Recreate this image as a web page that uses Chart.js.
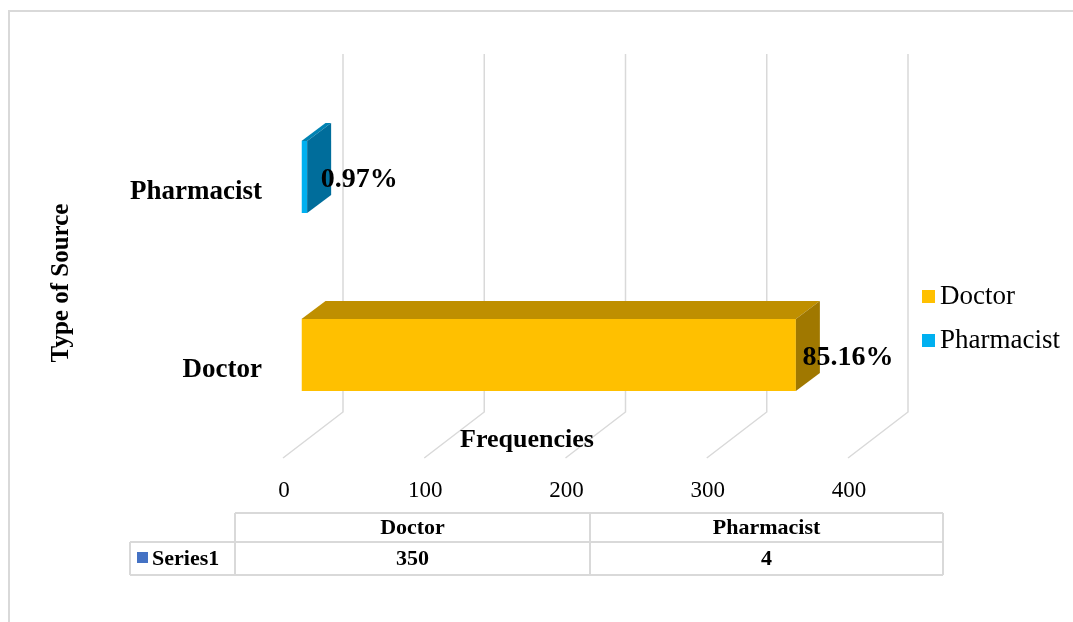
<!DOCTYPE html>
<html>
<head>
<meta charset="utf-8">
<script src="https://cdn.jsdelivr.net/npm/chart.js@4"></script>
<style>
  body { margin: 0; background: #fff; }
  #wrap { width: 1073px; height: 622px; position: relative; }
</style>
</head>
<body>
<div id="wrap"><canvas id="chart" width="1073" height="622"></canvas></div>
<script>
// data
const categories = ['Doctor', 'Pharmacist'];
const frequencies = [350, 4];
const percentLabels = ['85.16%', '0.97%'];
const xTicks = [0, 100, 200, 300, 400];
const seriesName = 'Series1';

const frontColors = ['#FFC000', '#00B0F0'];
const topColors = ['#BF8F00', '#0083B3'];
const sideColors = ['#A07800', '#006D9B'];

const SERIF = '"Liberation Serif", "Times New Roman", serif';
const GRID = '#D9D9D9';
const DEPTH = { dx: 24, dy: -18 };   // bar depth in the oblique view

const decorPlugin = {
  id: 'decor',
  beforeDatasetsDraw(chart) {
    const ctx = chart.ctx;
    const xs = chart.scales.x;
    const ys = chart.scales.y;
    ctx.save();

    // outer frame
    ctx.strokeStyle = GRID;
    ctx.lineWidth = 2;
    ctx.beginPath();
    ctx.moveTo(9, 622); ctx.lineTo(9, 11); ctx.lineTo(1073, 11);
    ctx.stroke();

    // back wall gridlines + floor lines
    ctx.lineWidth = 1.5;
    xTicks.forEach(v => {
      const xb = xs.getPixelForValue(v) + 41.5;
      ctx.beginPath();
      ctx.moveTo(xb, 54);
      ctx.lineTo(xb, 412);
      ctx.lineTo(xb - 60, 458);
      ctx.stroke();
    });

    // tick labels
    ctx.fillStyle = '#000';
    ctx.font = '23px ' + SERIF;
    ctx.textAlign = 'center';
    ctx.textBaseline = 'middle';
    xTicks.forEach(v => {
      ctx.fillText(String(v), xs.getPixelForValue(v) - 17.5, 491);
    });

    // category labels
    ctx.font = 'bold 27px ' + SERIF;
    ctx.textAlign = 'right';
    categories.forEach((c, i) => {
      ctx.fillText(c, 262, ys.getPixelForValue(i) + 15);
    });

    // axis titles
    ctx.font = 'bold 26px ' + SERIF;
    ctx.textAlign = 'center';
    ctx.fillText('Frequencies', 527, 440);
    ctx.save();
    ctx.translate(62, 283);
    ctx.rotate(-Math.PI / 2);
    ctx.font = 'bold 25px ' + SERIF;
    ctx.fillText('Type of Source', 0, 0);
    ctx.restore();

    ctx.restore();
  },
  afterDatasetsDraw(chart) {
    const ctx = chart.ctx;
    const meta = chart.getDatasetMeta(0);
    ctx.save();
    meta.data.forEach((bar, i) => {
      const h = bar.height;
      const top = bar.y - h / 2;
      const bottom = bar.y + h / 2;
      const l = bar.base, r = bar.x;
      // top face
      ctx.fillStyle = topColors[i];
      ctx.beginPath();
      ctx.moveTo(l, top); ctx.lineTo(r, top);
      ctx.lineTo(r + DEPTH.dx, top + DEPTH.dy);
      ctx.lineTo(l + DEPTH.dx, top + DEPTH.dy);
      ctx.closePath(); ctx.fill();
      // side face
      ctx.fillStyle = sideColors[i];
      ctx.beginPath();
      ctx.moveTo(r, top); ctx.lineTo(r + DEPTH.dx, top + DEPTH.dy);
      ctx.lineTo(r + DEPTH.dx, bottom + DEPTH.dy);
      ctx.lineTo(r, bottom);
      ctx.closePath(); ctx.fill();
      // data label
      ctx.fillStyle = '#000';
      ctx.font = 'bold 28px ' + SERIF;
      ctx.textAlign = 'center';
      ctx.textBaseline = 'middle';
      ctx.fillText(percentLabels[i], r + 52, bar.y + 3);
    });

    // legend
    ctx.font = '27px ' + SERIF;
    ctx.textAlign = 'left';
    ctx.textBaseline = 'middle';
    categories.forEach((c, i) => {
      const y = 297 + i * 44;
      ctx.fillStyle = frontColors[i];
      ctx.fillRect(922, y - 7, 13, 13);
      ctx.fillStyle = '#000';
      ctx.fillText(c, 940, y);
    });

    // data table
    const colX = [235, 590, 943];
    const rowY = [513, 542, 575];
    ctx.strokeStyle = GRID;
    ctx.lineWidth = 2;
    ctx.beginPath();
    ctx.moveTo(colX[0], rowY[0]); ctx.lineTo(colX[2], rowY[0]);
    ctx.moveTo(130, rowY[1]); ctx.lineTo(colX[2], rowY[1]);
    ctx.moveTo(130, rowY[2]); ctx.lineTo(colX[2], rowY[2]);
    ctx.moveTo(130, rowY[1]); ctx.lineTo(130, rowY[2]);
    colX.forEach(x => { ctx.moveTo(x, rowY[0]); ctx.lineTo(x, rowY[2]); });
    ctx.stroke();

    ctx.font = 'bold 22px ' + SERIF;
    ctx.textAlign = 'center';
    ctx.fillStyle = '#000';
    categories.forEach((c, i) => {
      const cx = (colX[i] + colX[i + 1]) / 2;
      ctx.fillText(c, cx, 528);
      ctx.fillText(String(frequencies[i]), cx, 559);
    });
    ctx.fillStyle = '#4472C4';
    ctx.fillRect(137, 552, 11, 11);
    ctx.fillStyle = '#000';
    ctx.textAlign = 'left';
    ctx.fillText(seriesName, 152, 559);

    ctx.restore();
  }
};

new Chart(document.getElementById('chart'), {
  type: 'bar',
  data: {
    labels: categories,
    datasets: [{
      label: seriesName,
      data: frequencies,
      backgroundColor: frontColors,
      borderWidth: 0,
      barPercentage: 0.405,
      categoryPercentage: 1.0
    }]
  },
  options: {
    indexAxis: 'y',
    responsive: false,
    animation: false,
    devicePixelRatio: 1,
    layout: { padding: { left: 301.5, right: 206.5, top: 88, bottom: 178 } },
    plugins: {
      legend: { display: false },
      tooltip: { enabled: false }
    },
    scales: {
      x: { display: false, min: 0, max: 400 },
      y: { display: false, reverse: true }
    }
  },
  plugins: [decorPlugin]
});
</script>
</body>
</html>
